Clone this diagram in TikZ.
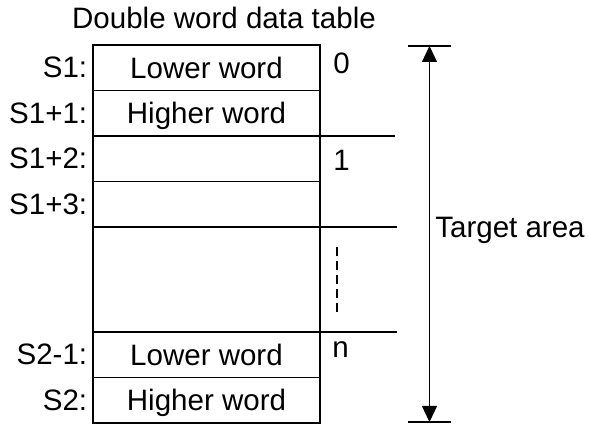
\documentclass[tikz,border=0pt]{standalone}
\usepackage{fontspec}
\setmainfont{Liberation Sans}
\usetikzlibrary{positioning,arrows.meta}

\begin{document}
\begin{tikzpicture}[x=0.2mm,y=-0.2mm,
        every node/.style={font=\fontsize{16.8}{20}\selectfont},
        cell/.style={draw,line width=0.8pt,minimum width=45.4mm,minimum height=9.1mm,inner sep=0pt,outer sep=0pt,text height=12pt,text depth=0pt},
        addr/.style={anchor=east,inner sep=0pt,xshift=-1.1mm},
        idx/.style={anchor=west,inner sep=0pt},
        sep/.style={line width=0.6pt}]
    \useasboundingbox (0,0) rectangle (589,425);
    \node (title) at (224,18) {Double word data table};
    % table rows
    \node[cell] (r1) at (206.5,67.75) {Lower word};
    \node[cell,below=0pt of r1] (r2) {Higher word};
    \node[cell,below=0pt of r2] (r3) {};
    \node[cell,below=0pt of r3] (r4) {};
    \node[cell,below=0pt of r4,minimum height=21mm] (r5) {};
    \node[cell,below=0pt of r5] (r6) {Lower word};
    \node[cell,below=0pt of r6] (r7) {Higher word};
    % addresses
    \node[addr] (a1) at (r1.west) {S1:};
    \node[addr] (a2) at (r2.west) {S1+1:};
    \node[addr] (a3) at (r3.west) {S1+2:};
    \node[addr] (a4) at (r4.west) {S1+3:};
    \node[addr] (a6) at (r6.west) {S2-1:};
    \node[addr] (a7) at (r7.west) {S2:};
    % index of each double word
    \node[idx] (i0) at (333,63) {0};
    \node[idx] (i1) at (333,160) {1};
    \node[idx] (in) at (332,350) {n};
    \draw[sep] (r2.south east) -- ++(75,0);
    \draw[sep] (r4.south east) -- ++(77,0);
    \draw[sep] (r5.south east) -- ++(77,0);
    \draw[line width=0.6pt,dash pattern=on 1.8mm off 1mm] (337,247) -- (337,315);
    % target area
    \coordinate (top) at (429.5,46);
    \coordinate (bot) at (429.5,422);
    \draw[sep] ([xshift=-4.3mm]top) -- ([xshift=4.3mm]top);
    \draw[sep] ([xshift=-4.3mm]bot) -- ([xshift=4.3mm]bot);
    \draw[line width=0.7pt,{Triangle[length=3.2mm,width=3mm]}-{Triangle[length=3.2mm,width=3mm]}] (top) -- (bot);
    \node[idx] (target) at (435,230) {Target area};
\end{tikzpicture}
\end{document}
